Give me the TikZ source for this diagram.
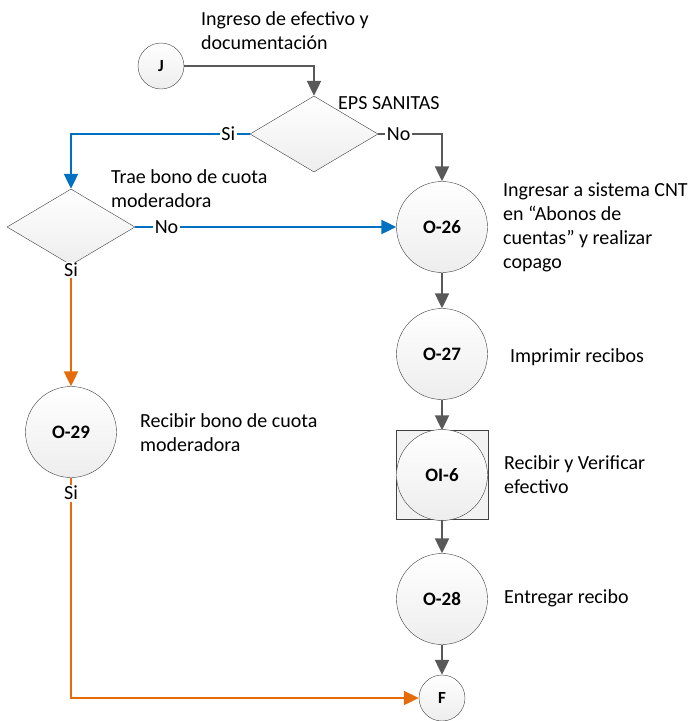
\documentclass[tikz,border=0pt]{standalone}
\usepackage{fontspec}
\setmainfont{Carlito}
\usetikzlibrary{shapes.geometric, arrows.meta}
\definecolor{flowgray}{RGB}{89,89,89}
\definecolor{flowblue}{RGB}{0,112,192}
\definecolor{floworange}{RGB}{228,108,10}
\tikzstyle{connector} = [circle, minimum size=46pt, inner sep=0pt, draw=black!75, top color=white, bottom color=gray!14, font=\fontsize{17}{20}\selectfont\bfseries]
\tikzstyle{operation} = [circle, minimum size=91pt, inner sep=0pt, draw=black!75, top color=white, bottom color=gray!14, font=\fontsize{19}{22}\selectfont\bfseries]
\tikzstyle{inspection} = [rectangle, minimum width=92pt, minimum height=89pt, inner sep=0pt, draw=black!75, fill=gray!10]
\tikzstyle{decision} = [diamond, minimum width=128pt, minimum height=76pt, inner sep=0pt, draw=black!75, top color=white, bottom color=gray!14]
\tikzstyle{note} = [anchor=west, align=left, inner sep=0pt]
\tikzstyle{edgetext} = [fill=white, inner sep=1.5pt]
\tikzstyle{arrow} = [line width=2.2pt, -{Triangle[length=15pt,width=14pt]}]

\begin{document}
\begin{tikzpicture}[x=1pt,y=-1pt, node distance=124pt, font=\fontsize{20}{24}\selectfont]
\useasboundingbox (0,0) rectangle (694,721);
%%%%% ADDING MAIN BLOCKS
\node (j) [connector] at (161,66) {J};
\node (eps) [decision] at (314,134) {};
\node (bono) [decision] at (71,227) {};
\node (o29) [operation] at (71,432) {O-29};
% right column, one below the other
\node (o26) [operation] at (442,227) {O-26};
\node (o27) [operation, below of=o26, yshift=-3pt] {O-27};
\node (oi6box) [inspection, below of=o27, yshift=3pt] {};
\node (oi6) [operation, below of=o27, yshift=3pt] {OI-6};
\node (o28) [operation, below of=oi6] {O-28};
\node (f) [connector, below of=o28, yshift=25pt] {F};

%%%%% ADDING TEXTS
\node (t1) [note] at (201,31) {Ingreso de efectivo y\\documentación};
\node (t2) [note] at (338,103) {EPS SANITAS};
\node (t3) [note] at (111,189) {Trae bono de cuota\\moderadora};
\node (t4) [note] at (503,227) {Ingresar a sistema CNT\\en “Abonos de\\cuentas” y realizar\\copago};
\node (t5) [note] at (510,357) {Imprimir recibos};
\node (t6) [note] at (140,433) {Recibir bono de cuota\\moderadora};
\node (t7) [note] at (504,475) {Recibir y Verificar\\efectivo};
\node (t8) [note] at (504,598) {Entregar recibo};

%%%%% ADDING ARROWS
\draw [arrow, flowgray] (j.east) -| (eps.north);
\draw [arrow, flowblue] (eps.west) -| node[pos=0.06, edgetext, text=black] {Si} (bono.north);
\draw [arrow, flowgray] (eps.east) -| node[pos=0.16, edgetext, text=black] {No} (o26.north);
\draw [arrow, flowblue] (bono.east) -- node[pos=0.12, edgetext, text=black] {No} (o26.west);
\draw [arrow, floworange] (bono.south) -- node[pos=0.04, edgetext, text=black] {Si} (o29.north);
\draw [arrow, floworange] (o29.south) |- node[pos=0.035, edgetext, text=black] {Si} (f.west);
\draw [arrow, flowgray] (o26) -- (o27);
\draw [arrow, flowgray] (o27) -- (oi6box);
\draw [arrow, flowgray] (oi6box) -- (o28);
\draw [arrow, flowgray] (o28) -- (f);
\end{tikzpicture}
\end{document}
